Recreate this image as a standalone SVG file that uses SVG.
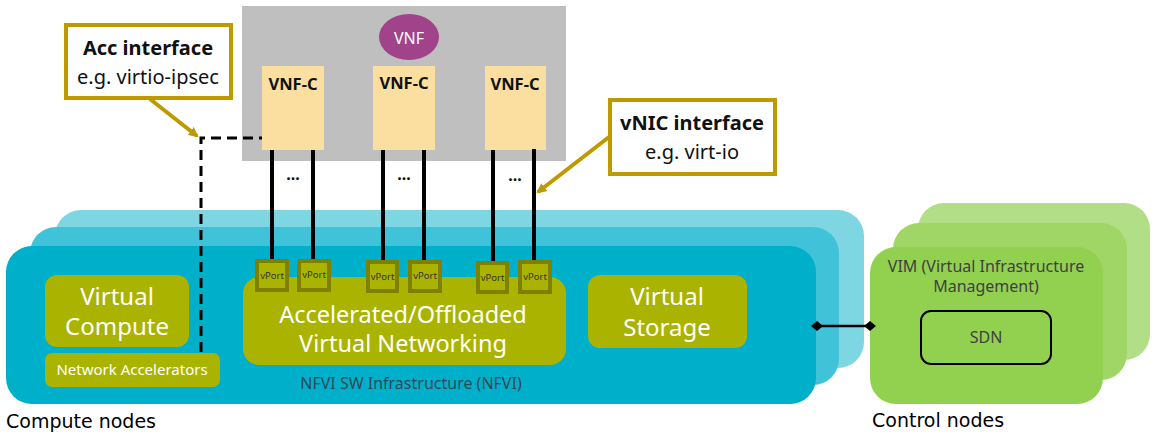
<svg xmlns="http://www.w3.org/2000/svg" width="1155" height="435" viewBox="0 0 1155 435">
<style>
.olive{fill:#AAB400}
.wt{fill:#fff;font-family:"Noto Sans",sans-serif;text-anchor:middle}
.vnfc{fill:#FADFA0}
.vnfct{font-family:"Noto Sans",sans-serif;font-weight:bold;font-size:16.5px;fill:#111;text-anchor:middle}
.vport{fill:#AAB400;stroke:#7F7F00;stroke-width:4}
.vpt{font-family:"Noto Sans",sans-serif;font-size:9.5px;fill:#333;text-anchor:middle}
.link{stroke:#000;stroke-width:4}
.dots{font-family:"Noto Sans",sans-serif;font-weight:bold;font-size:16px;fill:#111;text-anchor:middle}
.callout{fill:#fff;stroke:#BF9900;stroke-width:4}
.cb{font-family:"Noto Sans",sans-serif;font-weight:bold;font-size:20px;fill:#111;text-anchor:middle}
.cn{font-family:"Noto Sans",sans-serif;font-size:20px;fill:#111;text-anchor:middle}
.gray{font-family:"Noto Sans",sans-serif;font-size:16px;fill:#404040;text-anchor:middle}
.hand{font-family:"DejaVu Sans",sans-serif;font-size:19px;fill:#000}
</style>
<defs>
<marker id="goldArrow" markerWidth="10" markerHeight="10" refX="8" refY="5" orient="auto" markerUnits="userSpaceOnUse">
<path d="M0,0 L10,5 L0,10 z" fill="#BF9900"/>
</marker>
<marker id="dia" markerWidth="12" markerHeight="12" refX="6" refY="6" orient="auto" markerUnits="userSpaceOnUse">
<path d="M0,6 L6,1 L12,6 L6,11 z" fill="#000"/>
</marker>
</defs>

<g id="compute-nodes">
<rect x="55" y="210" width="809" height="158" rx="26" fill="#7FD6E3"/>
<rect x="30" y="227" width="809" height="158" rx="26" fill="#40C3D8"/>
<rect x="6" y="246" width="810" height="158" rx="26" fill="#00AFC9"/>
<text class="gray" x="411" y="389" style="fill:#2F4858">NFVI SW Infrastructure (NFVI)</text>
<text class="hand" x="6" y="428">Compute nodes</text>
</g>

<g id="control-nodes">
<rect x="918" y="203" width="232" height="157" rx="26" fill="#B2DE87"/>
<rect x="893" y="223" width="234" height="157" rx="26" fill="#A0D665"/>
<rect x="870" y="247" width="233" height="157" rx="26" fill="#92D050"/>
<text class="gray" x="986" y="272">VIM (Virtual Infrastructure</text>
<text class="gray" x="986" y="292">Management)</text>
<text class="hand" x="872" y="427">Control nodes</text>
</g>

<g id="sdn">
<rect x="921" y="311" width="130" height="53" rx="10" fill="none" stroke="#000" stroke-width="2"/>
<text class="gray" x="986" y="343">SDN</text>
</g>

<g id="virtual-compute">
<rect class="olive" x="45" y="275" width="144" height="72" rx="12"/>
<text class="wt" x="117" y="305" font-size="24">Virtual</text>
<text class="wt" x="117" y="335" font-size="24">Compute</text>
</g>

<g id="network-accelerators">
<rect class="olive" x="45" y="353" width="175" height="34" rx="7"/>
<text class="wt" x="132" y="375" font-size="15">Network Accelerators</text>
</g>

<g id="virtual-networking">
<rect class="olive" x="243" y="277" width="323" height="88" rx="16"/>
<text class="wt" x="403" y="323" font-size="23.5">Accelerated/Offloaded</text>
<text class="wt" x="403" y="352" font-size="23.5">Virtual Networking</text>
</g>

<g id="virtual-storage">
<rect class="olive" x="588" y="275" width="159" height="73" rx="12"/>
<text class="wt" x="667" y="305" font-size="24">Virtual</text>
<text class="wt" x="667" y="336" font-size="24">Storage</text>
</g>

<g id="vnf">
<rect x="242" y="6" width="324" height="155" fill="#BFBFBF"/>
<ellipse cx="409" cy="37" rx="30" ry="23" fill="#A0438A"/>
<text x="409" y="44" font-family="Noto Sans, sans-serif" font-size="16" fill="#fff" text-anchor="middle">VNF</text>
</g>

<g id="vnfc-1">
<rect class="vnfc" x="262" y="66" width="62" height="84"/>
<text class="vnfct" x="293" y="90">VNF-C</text>
</g>
<g id="vnfc-2">
<rect class="vnfc" x="373" y="66" width="62" height="84"/>
<text class="vnfct" x="404" y="89">VNF-C</text>
</g>
<g id="vnfc-3">
<rect class="vnfc" x="485" y="66" width="61" height="84"/>
<text class="vnfct" x="515" y="90">VNF-C</text>
</g>

<g id="connectors">
<line class="link" x1="272" y1="150" x2="272" y2="260"/>
<line class="link" x1="313" y1="150" x2="313" y2="260"/>
<line class="link" x1="383" y1="150" x2="383" y2="261"/>
<line class="link" x1="424" y1="150" x2="424" y2="261"/>
<line class="link" x1="493" y1="150" x2="493" y2="262"/>
<line class="link" x1="534" y1="149" x2="534" y2="262"/>
<text class="dots" x="293" y="180">...</text>
<text class="dots" x="404" y="180">...</text>
<text class="dots" x="515" y="181">...</text>
<polyline points="201,352 201,138 262,138" fill="none" stroke="#000" stroke-width="3" stroke-dasharray="10,6"/>
<line x1="817" y1="326" x2="870" y2="326" stroke="#000" stroke-width="2.5" marker-start="url(#dia)" marker-end="url(#dia)"/>
<line x1="150" y1="99" x2="197" y2="136" stroke="#BF9900" stroke-width="4" marker-end="url(#goldArrow)"/>
<line x1="609" y1="137" x2="538" y2="192" stroke="#BF9900" stroke-width="4" marker-end="url(#goldArrow)"/>
</g>

<g id="vports">
<rect class="vport" x="257" y="261" width="30" height="29"/><text class="vpt" x="272" y="279">vPort</text>
<rect class="vport" x="299" y="261" width="30" height="29"/><text class="vpt" x="314" y="278">vPort</text>
<rect class="vport" x="368" y="262" width="29" height="29"/><text class="vpt" x="382.5" y="280">vPort</text>
<rect class="vport" x="410" y="262" width="30" height="29"/><text class="vpt" x="425" y="279">vPort</text>
<rect class="vport" x="478" y="263" width="29" height="29"/><text class="vpt" x="492.5" y="281">vPort</text>
<rect class="vport" x="520" y="262" width="30" height="30"/><text class="vpt" x="535" y="280">vPort</text>
</g>

<g id="acc-interface">
<rect class="callout" x="66" y="25" width="165" height="73"/>
<text class="cb" x="148" y="55">Acc interface</text>
<text class="cn" x="148" y="84">e.g. virtio-ipsec</text>
</g>

<g id="vnic-interface">
<rect class="callout" x="610" y="100" width="165" height="74"/>
<text class="cb" x="692" y="130">vNIC interface</text>
<text class="cn" x="692" y="159" font-size="19.5">e.g. virt-io</text>
</g>
</svg>
